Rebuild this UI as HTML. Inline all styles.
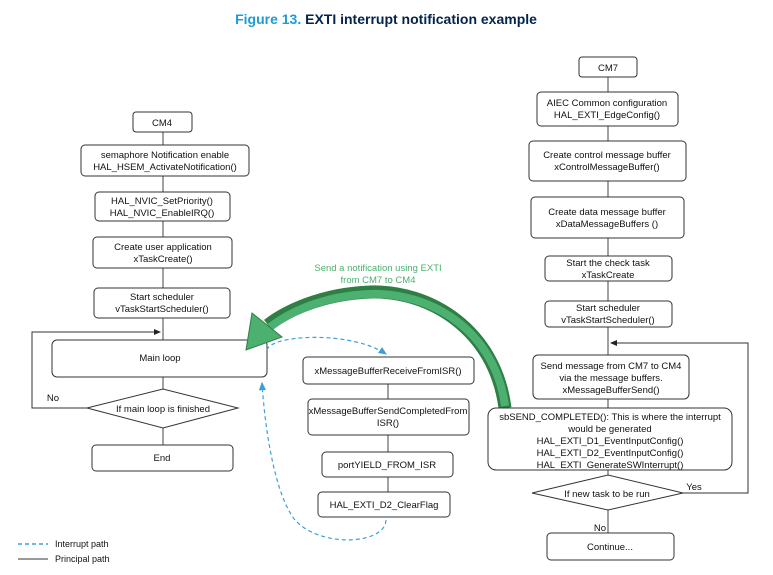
<!DOCTYPE html>
<html><head><meta charset="utf-8"><style>
body{margin:0;background:#fff;}
svg{display:block;font-family:"Liberation Sans",Arial,sans-serif;}
.b{fill:#fff;stroke:#333;stroke-width:1;}
text{font-size:9.5px;fill:#111;text-anchor:middle;}
</style></head><body>
<svg width="773" height="575" viewBox="0 0 773 575">
<defs>
<marker id="ab" markerWidth="8" markerHeight="8" refX="6" refY="4" orient="auto"><path d="M0,1 L7,4 L0,7 Z" fill="#222"/></marker>
<marker id="ablue" markerWidth="8" markerHeight="8" refX="6" refY="4" orient="auto"><path d="M0,1 L7,4 L0,7 Z" fill="#3aa0dc"/></marker>
</defs>
<text x="386" y="24" style="font-size:14px;font-weight:bold;fill:#1e9bd7">Figure 13. <tspan fill="#03234b">EXTI interrupt notification example</tspan></text>

<line x1="163" y1="132" x2="163" y2="445" stroke="#444"/>
<polyline points="87,408 32,408 32,332 160,332" fill="none" stroke="#333" marker-end="url(#ab)"/>
<rect class="b" x="133" y="112" width="59" height="20" rx="3"/><text x="162" y="126">CM4</text>
<rect class="b" x="81" y="145" width="168" height="31" rx="4"/><text x="165" y="158">semaphore Notification enable</text><text x="165" y="170">HAL_HSEM_ActivateNotification()</text>
<rect class="b" x="95" y="192" width="135" height="29" rx="4"/><text x="162" y="204">HAL_NVIC_SetPriority()</text><text x="162" y="216">HAL_NVIC_EnableIRQ()</text>
<rect class="b" x="93" y="237" width="139" height="31" rx="4"/><text x="163" y="250">Create user application</text><text x="163" y="262">xTaskCreate()</text>
<rect class="b" x="94" y="288" width="136" height="30" rx="4"/><text x="162" y="300">Start scheduler</text><text x="162" y="312">vTaskStartScheduler()</text>
<rect class="b" x="52" y="340" width="215" height="37" rx="5"/><text x="160" y="361">Main loop</text>
<polygon class="b" points="87,408 163,389 238,408 163,428"/><text x="163" y="412">If main loop is finished</text>
<text x="53" y="401">No</text>
<rect class="b" x="92" y="445" width="141" height="26" rx="4"/><text x="162" y="461">End</text>

<line x1="388" y1="384" x2="388" y2="492" stroke="#444"/>
<rect class="b" x="303" y="357" width="171" height="27" rx="4"/><text x="388" y="374">xMessageBufferReceiveFromISR()</text>
<rect class="b" x="308" y="399" width="161" height="36" rx="4"/><text x="388" y="414">xMessageBufferSendCompletedFrom</text><text x="388" y="426">ISR()</text>
<rect class="b" x="322" y="452" width="131" height="25" rx="4"/><text x="387" y="468">portYIELD_FROM_ISR</text>
<rect class="b" x="318" y="492" width="132" height="25" rx="4"/><text x="384" y="508">HAL_EXTI_D2_ClearFlag</text>

<path d="M267,350 C270,335 350,330 386,354" fill="none" stroke="#3aa0dc" stroke-width="1.2" stroke-dasharray="4,3" marker-end="url(#ablue)"/>
<path d="M386,520 C385,545 320,548 295,520 C275,495 265,430 262,383" fill="none" stroke="#3aa0dc" stroke-width="1.2" stroke-dasharray="4,3" marker-end="url(#ablue)"/>

<text x="378" y="271" style="fill:#4cb070;font-size:9.5px">Send a notification using EXTI</text>
<text x="378" y="283" style="fill:#4cb070;font-size:9.5px">from CM7 to CM4</text>
<path d="M505,408 C495,330 430,290 370,292 C320,294 285,312 268,325" fill="none" stroke="#2f7f45" stroke-width="13"/>
<path d="M505,406 C495,330 430,292 370,294 C320,296 287,314 270,327" fill="none" stroke="#4cb070" stroke-width="8"/>
<polygon points="246,350 252,313 282,337" fill="#4cb070" stroke="#2f7f45"/>

<line x1="608" y1="77" x2="608" y2="533" stroke="#444"/>
<polyline points="683,493 748,493 748,343 611,343" fill="none" stroke="#333" marker-end="url(#ab)"/>
<rect class="b" x="579" y="57" width="58" height="20" rx="3"/><text x="608" y="71">CM7</text>
<rect class="b" x="537" y="92" width="141" height="34" rx="4"/><text x="607" y="106">AIEC Common configuration</text><text x="607" y="118">HAL_EXTI_EdgeConfig()</text>
<rect class="b" x="529" y="141" width="157" height="40" rx="4"/><text x="607" y="158">Create control message buffer</text><text x="607" y="170">xControlMessageBuffer()</text>
<rect class="b" x="531" y="197" width="153" height="41" rx="4"/><text x="607" y="215">Create data message buffer</text><text x="607" y="227">xDataMessageBuffers ()</text>
<rect class="b" x="545" y="256" width="127" height="25" rx="4"/><text x="608" y="266">Start the check task</text><text x="608" y="278">xTaskCreate</text>
<rect class="b" x="545" y="301" width="127" height="26" rx="4"/><text x="608" y="311">Start scheduler</text><text x="608" y="323">vTaskStartScheduler()</text>
<rect class="b" x="533" y="355" width="156" height="44" rx="5"/><text x="611" y="369">Send message from CM7 to CM4</text><text x="611" y="381">via the message buffers.</text><text x="611" y="393">xMessageBufferSend()</text>
<rect class="b" x="488" y="408" width="244" height="62" rx="8"/>
<text x="610" y="420">sbSEND_COMPLETED(): This is where the interrupt</text><text x="610" y="432">would be generated</text><text x="610" y="444">HAL_EXTI_D1_EventInputConfig()</text><text x="610" y="456">HAL_EXTI_D2_EventInputConfig()</text><text x="610" y="468">HAL_EXTI_GenerateSWInterrupt()</text>
<polygon class="b" points="532,493 608,475 683,493 608,510"/><text x="607" y="497">If new task to be run</text>
<text x="694" y="490">Yes</text>
<text x="600" y="531">No</text>
<rect class="b" x="547" y="533" width="127" height="27" rx="4"/><text x="610" y="550">Continue...</text>

<line x1="18" y1="544" x2="48" y2="544" stroke="#3aa0dc" stroke-width="1.5" stroke-dasharray="4,3"/>
<text x="55" y="547" style="text-anchor:start;font-size:9px">Interrupt path</text>
<line x1="18" y1="559" x2="48" y2="559" stroke="#333"/>
<text x="55" y="562" style="text-anchor:start;font-size:9px">Principal path</text>
</svg>
</body></html>
